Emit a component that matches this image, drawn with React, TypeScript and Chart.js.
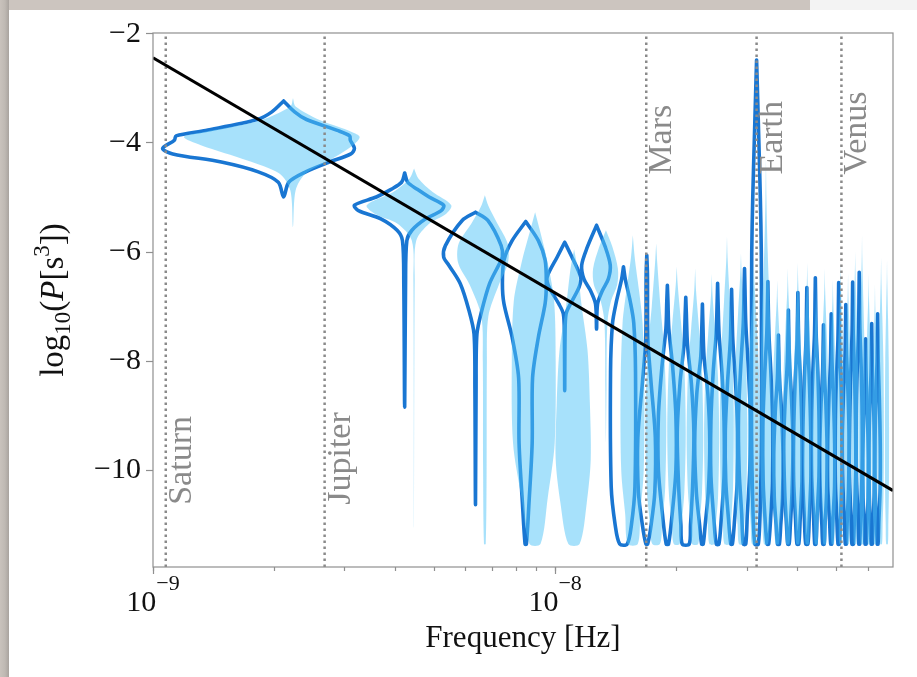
import { useEffect, useRef } from 'react';
import { Chart, registerables } from 'chart.js';

Chart.register(...registerables);

// ---------- axes ----------
const NHZ = 1e-9;
const X_MIN = 1e-9;
const X_MAX = 6.92e-8;
const Y_MIN = -11.77;
const Y_MAX = -1.985;

const yTickValues = [-10, -8, -6, -4, -2];
const xMajorTicks = [1e-9, 1e-8];
const xMajorExponents = ['−9', '−8'];
const xMinorTicks = [2e-9, 3e-9, 4e-9, 5e-9, 6e-9, 7e-9, 8e-9, 9e-9, 2e-8, 3e-8, 4e-8, 5e-8, 6e-8];

const xTitle = 'Frequency [Hz]';

// ---------- planets ----------
const planetNames = ['Saturn', 'Jupiter', 'Mars', 'Earth', 'Venus'];
const planetFreqNHz = [1.0758, 2.6714, 16.848, 31.688, 51.508];
const planetLabelY = [-10.63, -10.63, -4.58, -4.58, -4.58];

// ---------- power law ----------
const powerLawX = [1e-9, 6.92e-8];
const powerLawY = [-2.44, -10.37];

// ---------- violins (dark outlined) ----------
const darkFreqNHz = [
  2.1125, 4.225, 6.3375, 8.45, 10.5625, 12.675, 14.7875, 16.9, 19.0125, 21.125,
  23.2375, 25.35, 27.4625, 29.575, 31.6875, 33.8, 35.9125, 38.025, 40.1375, 42.25,
  44.3625, 46.475, 48.5875, 50.7, 52.8125, 54.925, 57.0375, 59.15, 61.2625, 63.375,
];
const darkHalfWidthNHz = 1.056;
// each profile: [log10 P, relative half width], top to bottom
const darkProfiles = [
  [[-3.23, 0], [-3.43, 0.13], [-3.57, 0.28], [-3.77, 0.72], [-3.87, 0.92], [-3.95, 0.93], [-4.1, 1.0], [-4.2, 0.94], [-4.35, 0.6], [-4.53, 0.27], [-4.72, 0.06], [-4.99, 0]],
  [[-4.55, 0], [-4.72, 0.07], [-4.85, 0.3], [-4.99, 0.6], [-5.14, 1.0], [-5.24, 0.93], [-5.39, 0.51], [-5.6, 0.17], [-5.79, 0.05], [-6.6, 0.02], [-8.84, 0]],
  [[-5.27, 0], [-5.42, 0.44], [-5.88, 0.95], [-6.09, 1.0], [-6.24, 0.85], [-6.58, 0.5], [-7.07, 0.22], [-7.5, 0.05], [-8.5, 0.02], [-10.63, 0]],
  [[-5.44, 0], [-5.79, 0.6], [-6.15, 0.94], [-6.58, 1.0], [-6.94, 0.94], [-7.56, 0.6], [-8.3, 0.32], [-9.5, 0.3], [-10.6, 0.15], [-11.35, 0.03]],
  [[-5.82, 0], [-6.09, 0.42], [-6.46, 0.96], [-6.64, 0.86], [-6.95, 0.33], [-7.13, 0.08], [-7.5, 0.02], [-8.54, 0]],
  [[-5.51, 0], [-5.91, 0.62], [-6.24, 0.98], [-6.49, 0.84], [-6.7, 0.42], [-6.95, 0.07], [-7.41, 0]],
  [[-6.27, 0], [-6.5, 0.15], [-6.9, 0.55], [-7.3, 0.85], [-8.2, 1.0], [-10.3, 0.95], [-11.0, 0.65], [-11.35, 0.3]],
  [[-6.06, 0], [-6.4, 0.06], [-7.6, 0.1], [-8.4, 0.4], [-9.4, 0.8], [-10.4, 0.75], [-11.0, 0.4], [-11.35, 0.08]],
  [[-6.61, 0], [-6.9, 0.06], [-7.4, 0.15], [-8.1, 0.55], [-9.0, 0.9], [-10.0, 0.9], [-10.8, 0.5], [-11.35, 0.12]],
  [[-6.83, 0], [-7.1, 0.06], [-7.7, 0.2], [-8.4, 0.65], [-9.3, 0.95], [-10.3, 0.8], [-11.0, 0.55], [-11.35, 0.4]],
  [[-6.95, 0], [-7.3, 0.06], [-7.9, 0.2], [-8.6, 0.7], [-9.5, 0.95], [-10.4, 0.75], [-11.0, 0.35], [-11.35, 0.1]],
  [[-6.57, 0], [-6.9, 0.06], [-7.5, 0.2], [-8.2, 0.6], [-9.1, 0.9], [-10.1, 0.9], [-10.9, 0.5], [-11.35, 0.18]],
  [[-6.68, 0], [-7.0, 0.06], [-7.6, 0.18], [-8.4, 0.6], [-9.3, 0.92], [-10.2, 0.85], [-10.9, 0.45], [-11.35, 0.12]],
  [[-6.3, 0], [-6.6, 0.06], [-7.3, 0.2], [-8.1, 0.6], [-9.0, 0.95], [-10.0, 0.85], [-10.8, 0.45], [-11.35, 0.2]],
  [[-2.48, 0], [-3.0, 0.14], [-4.0, 0.4], [-5.0, 0.65], [-6.0, 0.82], [-7.5, 0.85], [-9.3, 0.85], [-10.6, 0.65], [-11.35, 0.3]],
  [[-6.54, 0], [-6.9, 0.06], [-7.5, 0.2], [-8.3, 0.6], [-9.2, 0.9], [-10.2, 0.85], [-10.9, 0.5], [-11.35, 0.15]],
  [[-7.52, 0], [-7.8, 0.06], [-8.3, 0.2], [-8.9, 0.6], [-9.7, 0.9], [-10.5, 0.8], [-11.0, 0.45], [-11.35, 0.18]],
  [[-7.06, 0], [-7.4, 0.06], [-8.0, 0.22], [-8.7, 0.65], [-9.5, 0.95], [-10.4, 0.75], [-11.0, 0.4], [-11.35, 0.15]],
  [[-6.74, 0], [-7.1, 0.06], [-7.7, 0.2], [-8.4, 0.6], [-9.3, 0.9], [-10.2, 0.9], [-10.9, 0.5], [-11.35, 0.2]],
  [[-6.65, 0], [-7.0, 0.06], [-7.6, 0.18], [-8.3, 0.55], [-9.2, 0.88], [-10.1, 0.95], [-10.9, 0.55], [-11.35, 0.25]],
  [[-6.47, 0], [-6.8, 0.06], [-7.5, 0.2], [-8.2, 0.6], [-9.1, 0.9], [-10.1, 0.88], [-10.8, 0.45], [-11.35, 0.15]],
  [[-7.33, 0], [-7.6, 0.06], [-8.2, 0.22], [-8.8, 0.62], [-9.6, 0.92], [-10.4, 0.8], [-11.0, 0.4], [-11.35, 0.18]],
  [[-7.13, 0], [-7.4, 0.06], [-8.0, 0.2], [-8.7, 0.6], [-9.5, 0.9], [-10.3, 0.88], [-10.9, 0.45], [-11.35, 0.14]],
  [[-6.56, 0], [-6.9, 0.06], [-7.6, 0.2], [-8.3, 0.6], [-9.2, 0.9], [-10.1, 0.9], [-10.9, 0.5], [-11.35, 0.18]],
  [[-6.96, 0], [-7.3, 0.06], [-7.9, 0.22], [-8.6, 0.65], [-9.4, 0.95], [-10.3, 0.8], [-10.9, 0.42], [-11.35, 0.14]],
  [[-6.55, 0], [-6.9, 0.06], [-7.5, 0.18], [-8.2, 0.55], [-9.1, 0.85], [-10.0, 0.95], [-10.8, 0.55], [-11.35, 0.22]],
  [[-6.37, 0], [-6.7, 0.06], [-7.4, 0.2], [-8.1, 0.6], [-9.0, 0.9], [-10.0, 0.88], [-10.8, 0.45], [-11.35, 0.14]],
  [[-7.59, 0], [-7.9, 0.06], [-8.4, 0.22], [-9.0, 0.6], [-9.8, 0.9], [-10.5, 0.8], [-11.0, 0.42], [-11.35, 0.18]],
  [[-7.31, 0], [-7.6, 0.06], [-8.2, 0.22], [-8.8, 0.62], [-9.6, 0.9], [-10.4, 0.82], [-11.0, 0.45], [-11.35, 0.18]],
  [[-7.13, 0], [-7.4, 0.06], [-8.0, 0.2], [-8.7, 0.6], [-9.5, 0.9], [-10.3, 0.88], [-10.9, 0.45], [-11.35, 0.14]],
];

// ---------- violins (light filled) ----------
const lightFreqNHz = [
  2.229, 4.458, 6.687, 8.916, 11.145, 13.374, 15.603, 17.832, 20.061, 22.29,
  24.519, 26.748, 28.977, 31.206, 33.435, 35.664, 37.893, 40.122, 42.351, 44.58,
  46.809, 49.038, 51.267, 53.496, 55.725, 57.954, 60.183, 62.412, 64.641, 66.87,
];
const lightHalfWidthNHz = 1.114;
const lightProfiles = [
  [[-3.18, 0], [-3.33, 0.03], [-3.58, 0.33], [-3.7, 0.58], [-3.8, 0.8], [-3.89, 0.93], [-4.04, 0.82], [-4.32, 0.46], [-4.56, 0.15], [-4.87, 0.03], [-5.54, 0]],
  [[-4.47, 0], [-4.65, 0.1], [-4.9, 0.45], [-5.14, 0.95], [-5.3, 0.8], [-5.48, 0.36], [-5.79, 0.05], [-6.5, 0.015], [-11.05, 0]],
  [[-4.96, 0], [-5.15, 0.12], [-5.48, 0.45], [-5.85, 0.84], [-6.2, 0.85], [-6.6, 0.5], [-7.18, 0.12], [-8.0, 0.07], [-10.0, 0.06], [-11.35, 0.03]],
  [[-5.27, 0], [-5.6, 0.22], [-6.2, 0.6], [-6.9, 0.92], [-8.0, 1.0], [-9.5, 0.95], [-10.5, 0.6], [-11.35, 0.25]],
  [[-5.95, 0], [-6.3, 0.2], [-7.0, 0.45], [-7.8, 0.8], [-8.8, 0.95], [-9.8, 1.0], [-10.6, 0.75], [-11.35, 0.32]],
  [[-5.6, 0], [-5.9, 0.45], [-6.3, 0.85], [-6.6, 0.8], [-6.9, 0.35], [-7.3, 0.1], [-8.5, 0.04], [-9.5, 0]],
  [[-5.69, 0], [-6.1, 0.15], [-6.7, 0.5], [-7.3, 0.8], [-8.5, 0.95], [-10.0, 0.9], [-10.8, 0.6], [-11.35, 0.4]],
  [[-5.84, 0], [-6.2, 0.1], [-7.0, 0.4], [-7.8, 0.75], [-9.0, 0.95], [-10.3, 0.85], [-11.0, 0.55], [-11.35, 0.35]],
  [[-6.27, 0], [-6.6, 0.1], [-7.3, 0.45], [-8.1, 0.8], [-9.3, 0.95], [-10.4, 0.8], [-11.0, 0.5], [-11.35, 0.3]],
  [[-6.3, 0], [-6.7, 0.1], [-7.4, 0.45], [-8.2, 0.8], [-9.4, 0.95], [-10.4, 0.8], [-11.0, 0.5], [-11.35, 0.35]],
  [[-6.4, 0], [-6.8, 0.1], [-7.5, 0.45], [-8.3, 0.8], [-9.4, 0.95], [-10.5, 0.8], [-11.0, 0.5], [-11.35, 0.3]],
  [[-5.72, 0], [-6.1, 0.08], [-6.9, 0.4], [-7.8, 0.75], [-9.0, 0.95], [-10.3, 0.85], [-11.0, 0.55], [-11.35, 0.35]],
  [[-6.03, 0], [-6.4, 0.1], [-7.1, 0.42], [-8.0, 0.78], [-9.2, 0.95], [-10.4, 0.82], [-11.0, 0.5], [-11.35, 0.3]],
  [[-6.2, 0], [-6.6, 0.1], [-7.3, 0.45], [-8.1, 0.8], [-9.3, 0.95], [-10.4, 0.8], [-11.0, 0.5], [-11.35, 0.32]],
  [[-4.3, 0], [-5.0, 0.08], [-6.0, 0.3], [-7.2, 0.7], [-8.6, 0.95], [-10.0, 0.9], [-10.9, 0.6], [-11.35, 0.35]],
  [[-6.52, 0], [-6.9, 0.1], [-7.6, 0.45], [-8.4, 0.8], [-9.5, 0.95], [-10.5, 0.8], [-11.0, 0.5], [-11.35, 0.3]],
  [[-6.3, 0], [-6.7, 0.1], [-7.4, 0.45], [-8.2, 0.8], [-9.4, 0.95], [-10.4, 0.8], [-11.0, 0.5], [-11.35, 0.32]],
  [[-6.2, 0], [-6.6, 0.1], [-7.3, 0.42], [-8.1, 0.78], [-9.3, 0.95], [-10.4, 0.82], [-11.0, 0.5], [-11.35, 0.3]],
  [[-6.2, 0], [-6.6, 0.1], [-7.3, 0.45], [-8.1, 0.8], [-9.3, 0.95], [-10.4, 0.8], [-11.0, 0.5], [-11.35, 0.33]],
  [[-6.6, 0], [-7.0, 0.1], [-7.7, 0.45], [-8.5, 0.8], [-9.5, 0.95], [-10.5, 0.8], [-11.0, 0.5], [-11.35, 0.3]],
  [[-6.3, 0], [-6.7, 0.1], [-7.4, 0.45], [-8.2, 0.8], [-9.4, 0.95], [-10.4, 0.8], [-11.0, 0.5], [-11.35, 0.32]],
  [[-6.5, 0], [-6.9, 0.1], [-7.6, 0.45], [-8.4, 0.8], [-9.5, 0.95], [-10.5, 0.8], [-11.0, 0.5], [-11.35, 0.3]],
  [[-6.2, 0], [-6.6, 0.1], [-7.3, 0.42], [-8.1, 0.78], [-9.3, 0.95], [-10.4, 0.82], [-11.0, 0.5], [-11.35, 0.32]],
  [[-6.4, 0], [-6.8, 0.1], [-7.5, 0.45], [-8.3, 0.8], [-9.4, 0.95], [-10.5, 0.8], [-11.0, 0.5], [-11.35, 0.3]],
  [[-6.0, 0], [-6.4, 0.1], [-7.1, 0.42], [-8.0, 0.78], [-9.2, 0.95], [-10.4, 0.82], [-11.0, 0.5], [-11.35, 0.33]],
  [[-5.69, 0], [-6.1, 0.08], [-6.9, 0.4], [-7.8, 0.75], [-9.0, 0.95], [-10.3, 0.85], [-11.0, 0.55], [-11.35, 0.35]],
  [[-6.4, 0], [-6.8, 0.1], [-7.5, 0.45], [-8.3, 0.8], [-9.4, 0.95], [-10.5, 0.8], [-11.0, 0.5], [-11.35, 0.3]],
  [[-6.6, 0], [-7.0, 0.1], [-7.7, 0.45], [-8.5, 0.8], [-9.5, 0.95], [-10.5, 0.8], [-11.0, 0.5], [-11.35, 0.32]],
  [[-6.1, 0], [-6.5, 0.1], [-7.2, 0.42], [-8.0, 0.78], [-9.2, 0.95], [-10.4, 0.82], [-11.0, 0.5], [-11.35, 0.3]],
  [[-6.15, 0], [-6.5, 0.08], [-7.2, 0.35], [-8.0, 0.6], [-9.2, 0.7], [-10.4, 0.65], [-11.0, 0.45], [-11.35, 0.3]],
];

// ---------- styles ----------
const FONT = "'Liberation Serif', 'Times New Roman', serif";
const DARK = '#1976d2';
const LIGHT_FILL = 'rgba(79,195,247,0.5)';
const GRAY = '#8a8a8a';
const SPINE = '#8f8f8f';

function violinOutline(f: number, w: number, prof: number[][]) {
  const left = prof.map(([v, h]) => ({ x: (f - w * h) * NHZ, y: v }));
  const rev = prof.slice().reverse();
  const startIdx = rev[0][1] === 0 ? 1 : 0;
  const right = rev.slice(startIdx).map(([v, h]) => ({ x: (f + w * h) * NHZ, y: v }));
  return [...left, ...right];
}

type Seg = { t: string; size: number; dy: number; italic?: boolean };

function drawRich(ctx: CanvasRenderingContext2D, segs: Seg[], x0: number, y0: number) {
  let x = x0;
  for (const s of segs) {
    ctx.font = `${s.italic ? 'italic ' : ''}${s.size}px ${FONT}`;
    ctx.fillText(s.t, x, y0 + s.dy);
    x += ctx.measureText(s.t).width;
  }
}
function richWidth(ctx: CanvasRenderingContext2D, segs: Seg[]) {
  let w = 0;
  for (const s of segs) {
    ctx.font = `${s.italic ? 'italic ' : ''}${s.size}px ${FONT}`;
    w += ctx.measureText(s.t).width;
  }
  return w;
}

const decorPlugin = {
  id: 'decor',
  afterDatasetsDraw(chart: any) {
    const { ctx, chartArea: a, scales } = chart;
    const xs = scales.x;
    const ys = scales.y;
    ctx.save();
    // spines
    ctx.strokeStyle = SPINE;
    ctx.lineWidth = 1.2;
    ctx.strokeRect(a.left, a.top, a.right - a.left, a.bottom - a.top);
    // longer major ticks on x
    ctx.beginPath();
    for (const v of xMajorTicks) {
      const px = Math.round(xs.getPixelForValue(v)) + 0.5;
      ctx.moveTo(px, a.bottom);
      ctx.lineTo(px, a.bottom + 7);
    }
    ctx.stroke();

    // x tick labels 10^{-n}
    ctx.fillStyle = '#111';
    ctx.textBaseline = 'alphabetic';
    ctx.textAlign = 'left';
    xMajorTicks.forEach((v, i) => {
      const segs: Seg[] = [
        { t: '10', size: 30, dy: 0 },
        { t: xMajorExponents[i], size: 22, dy: -21 },
      ];
      const w = richWidth(ctx, segs);
      const px = xs.getPixelForValue(v);
      drawRich(ctx, segs, px - w / 2, a.bottom + 44);
    });

    // x title
    ctx.font = `31px ${FONT}`;
    ctx.textAlign = 'center';
    ctx.fillText(xTitle, (a.left + a.right) / 2, a.bottom + 80);

    // y title
    ctx.save();
    ctx.translate(63, (a.top + a.bottom) / 2);
    ctx.rotate(-Math.PI / 2);
    ctx.textAlign = 'left';
    const ySegs: Seg[] = [
      { t: 'log', size: 33, dy: 0 },
      { t: '10', size: 23, dy: 7 },
      { t: '(', size: 33, dy: 0 },
      { t: 'P', size: 33, dy: 0, italic: true },
      { t: '[s', size: 33, dy: 0 },
      { t: '3', size: 23, dy: -14 },
      { t: '])', size: 33, dy: 0 },
    ];
    const yw = richWidth(ctx, ySegs);
    drawRich(ctx, ySegs, -yw / 2, 0);
    ctx.restore();

    // planet labels
    ctx.fillStyle = GRAY;
    ctx.font = `34px ${FONT}`;
    ctx.textAlign = 'left';
    planetNames.forEach((name, i) => {
      const px = xs.getPixelForValue(planetFreqNHz[i] * NHZ);
      const py = ys.getPixelForValue(planetLabelY[i]);
      ctx.save();
      ctx.translate(px + 25, py);
      ctx.rotate(-Math.PI / 2);
      ctx.fillText(name, 0, 0);
      ctx.restore();
    });
    ctx.restore();
  },
};

function buildDatasets() {
  const ds: any[] = [];
  ds.push({
    data: powerLawX.map((x, i) => ({ x, y: powerLawY[i] })),
    borderColor: '#000',
    borderWidth: 3,
    tension: 0,
    fill: false,
    order: 0,
  });
  planetFreqNHz.forEach((f) => {
    ds.push({
      data: [
        { x: f * NHZ, y: Y_MIN },
        { x: f * NHZ, y: Y_MAX },
      ],
      borderColor: GRAY,
      borderWidth: 2.5,
      borderDash: [2.5, 3.5],
      borderCapStyle: 'butt',
      tension: 0,
      fill: false,
      order: 1,
    });
  });
  lightProfiles.forEach((p, i) => {
    ds.push({
      data: violinOutline(lightFreqNHz[i], lightHalfWidthNHz, p),
      fill: 'shape',
      backgroundColor: LIGHT_FILL,
      borderColor: 'rgba(0,0,0,0)',
      borderWidth: 0,
      tension: 0.3,
      order: 3,
    });
  });
  darkProfiles.forEach((p, i) => {
    ds.push({
      data: violinOutline(darkFreqNHz[i], darkHalfWidthNHz, p),
      fill: false,
      borderColor: DARK,
      borderWidth: 3.6,
      borderJoinStyle: 'round',
      borderCapStyle: 'round',
      tension: 0.3,
      order: 4,
    });
  });
  return ds;
}

export default function App() {
  const ref = useRef<HTMLCanvasElement>(null);
  useEffect(() => {
    const chart = new Chart(ref.current as HTMLCanvasElement, {
      type: 'line',
      data: { datasets: buildDatasets() },
      options: {
        responsive: false,
        animation: false,
        events: [],
        layout: { padding: { top: 33, right: 24, left: 0, bottom: 0 } },
        elements: { point: { radius: 0 } },
        plugins: { legend: { display: false }, tooltip: { enabled: false } },
        scales: {
          x: {
            type: 'logarithmic',
            min: X_MIN,
            max: X_MAX,
            afterBuildTicks: (scale: any) => {
              scale.ticks = [...xMajorTicks, ...xMinorTicks].sort((p, q) => p - q).map((value) => ({ value }));
            },
            afterFit: (scale: any) => {
              scale.height = 110;
            },
            border: { display: false },
            grid: { display: true, drawOnChartArea: false, drawTicks: true, tickLength: 4, tickColor: SPINE, tickWidth: 1.2 },
            ticks: { autoSkip: false, maxRotation: 0, callback: () => '', font: { size: 10 } },
          },
          y: {
            type: 'linear',
            min: Y_MIN,
            max: Y_MAX,
            afterBuildTicks: (scale: any) => {
              scale.ticks = yTickValues.map((value) => ({ value }));
            },
            afterFit: (scale: any) => {
              scale.width = 153;
            },
            border: { display: false },
            grid: { display: true, drawOnChartArea: false, drawTicks: true, tickLength: 7, tickColor: SPINE, tickWidth: 1.2 },
            ticks: {
              autoSkip: false,
              padding: 5,
              color: '#111',
              font: { family: FONT, size: 30 },
              callback: (v: any) => (Number(v) < 0 ? '−' : '') + Math.abs(Number(v)),
            },
          },
        },
      },
      plugins: [decorPlugin],
    } as any);
    return () => chart.destroy();
  }, []);

  return (
    <div style={{ position: 'fixed', left: 0, top: 0, width: 917, height: 677, background: '#ccc5bf', overflow: 'hidden' }}>
      <div style={{ position: 'absolute', left: 0, top: 0, width: 9, height: 677, background: 'linear-gradient(to right, #c9c2bc 0%, #bfb9b3 55%, #a9a39e 100%)' }} />
      <div style={{ position: 'absolute', left: 810, top: 0, width: 107, height: 10, background: '#f3f3f3' }} />
      <div style={{ position: 'absolute', left: 9, top: 10, width: 908, height: 667, background: '#ffffff' }} />
      <canvas ref={ref} width={917} height={677} style={{ position: 'absolute', left: 0, top: 0, width: 917, height: 677 }} />
    </div>
  );
}
